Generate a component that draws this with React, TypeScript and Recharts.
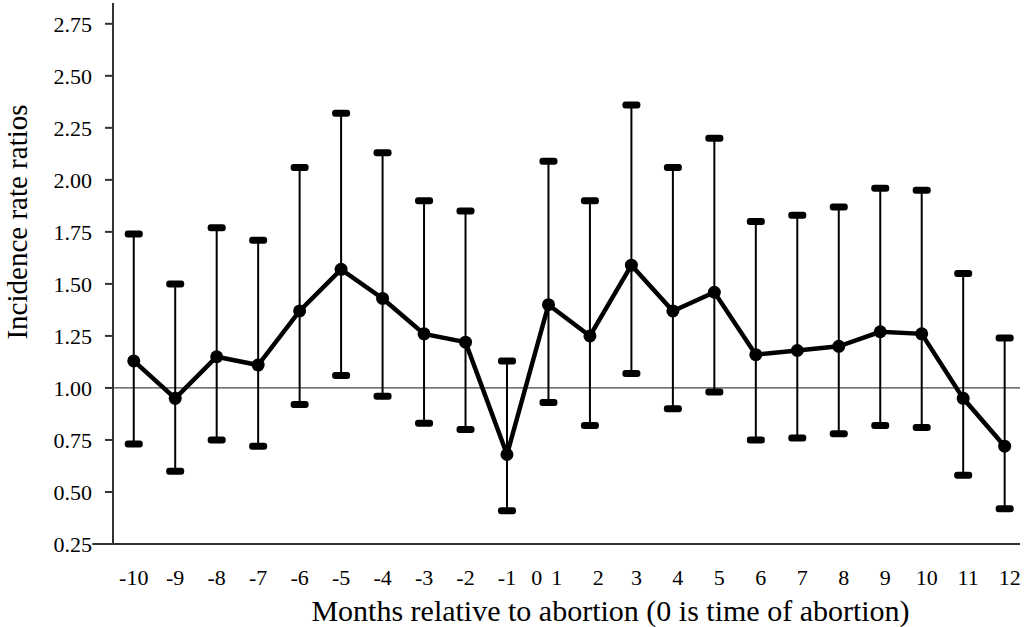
import React from "react";
import {
  ComposedChart,
  Line,
  Scatter,
  ErrorBar,
  XAxis,
  YAxis,
  ReferenceLine,
} from "recharts";

const months = [-10, -9, -8, -7, -6, -5, -4, -3, -2, -1, 1, 2, 3, 4, 5, 6, 7, 8, 9, 10, 11, 12];
const ratios = [1.13, 0.95, 1.15, 1.11, 1.37, 1.57, 1.43, 1.26, 1.22, 0.68, 1.4, 1.25, 1.59, 1.37, 1.46, 1.16, 1.18, 1.2, 1.27, 1.26, 0.95, 0.72];
const lowerCI = [0.73, 0.6, 0.75, 0.72, 0.92, 1.06, 0.96, 0.83, 0.8, 0.41, 0.93, 0.82, 1.07, 0.9, 0.98, 0.75, 0.76, 0.78, 0.82, 0.81, 0.58, 0.42];
const upperCI = [1.74, 1.5, 1.77, 1.71, 2.06, 2.32, 2.13, 1.9, 1.85, 1.13, 2.09, 1.9, 2.36, 2.06, 2.2, 1.8, 1.83, 1.87, 1.96, 1.95, 1.55, 1.24];
const yTicks = [0.25, 0.5, 0.75, 1.0, 1.25, 1.5, 1.75, 2.0, 2.25, 2.5, 2.75];

// label placement (in slot units): "0" has no estimate, it sits between -1 and 1,
// and the labels after it are nudged right a little like in the original figure
const ZERO_POS = 9.72;
const labelNudge = (i: number) => (i === 10 || i === 11 ? 0.2 : i >= 12 ? 0.12 : 0);

const data = months.map((m, i) => ({
  pos: i,
  month: m,
  rr: ratios[i],
  lo: lowerCI[i],
  hi: upperCI[i],
  err: [ratios[i] - lowerCI[i], upperCI[i] - ratios[i]],
}));

const tickItems = [
  ...months.map((m, i) => ({ pos: i + labelNudge(i), label: String(m) })),
  { pos: ZERO_POS, label: "0" },
].sort((a, b) => a.pos - b.pos);

const FONT = "Liberation Serif";

const Cap = (props: any) => {
  const { cx, cy } = props;
  if (cx == null || cy == null) return null;
  return <rect x={cx - 9} y={cy - 3.5} width={18} height={7} rx={3} fill="#000" />;
};

export default function App() {
  return (
    <div style={{ position: "absolute", left: 0, top: 0, background: "#fff" }}>
      <ComposedChart
        width={1026}
        height={627}
        data={data}
        margin={{ top: 3, right: 6, bottom: 0, left: 0 }}
      >
        <XAxis
          type="number"
          dataKey="pos"
          domain={[-0.5, 21.37]}
          ticks={tickItems.map((t) => t.pos)}
          tickFormatter={(v) => tickItems.find((t) => Math.abs(t.pos - v) < 0.001)?.label ?? ""}
          interval={0}
          height={83}
          tickLine={false}
          tickSize={0}
          tickMargin={25}
          axisLine={false}
          tick={{ fill: "#000", fontSize: 22, fontFamily: FONT }}
          label={{
            content: ({ viewBox }: any) => (
              <text
                x={viewBox.x + viewBox.width / 2 + 44}
                y={viewBox.y + 77}
                textAnchor="middle"
                fontSize={30}
                fontFamily={FONT}
                fill="#000"
              >
                Months relative to abortion (0 is time of abortion)
              </text>
            ),
          }}
        />
        <YAxis
          type="number"
          domain={[0.25, 2.85]}
          ticks={yTicks}
          tickFormatter={(v) => v.toFixed(2)}
          width={113}
          tickSize={8}
          tickMargin={13}
          tickLine={{ stroke: "#333", strokeWidth: 2 }}
          axisLine={{ stroke: "#333", strokeWidth: 2 }}
          tick={{ fill: "#000", fontSize: 22, fontFamily: FONT }}
          label={{
            content: () => {
              const x = 17;
              const y = 222;
              return (
                <text
                  x={x}
                  y={y}
                  transform={`rotate(-90 ${x} ${y})`}
                  textAnchor="middle"
                  dominantBaseline="central"
                  fontSize={29}
                  fontFamily={FONT}
                  fill="#000"
                >
                  Incidence rate ratios
                </text>
              );
            },
          }}
        />
        <ReferenceLine
          segment={[{ x: -1, y: 0.25 }, { x: 21.37, y: 0.25 }]}
          ifOverflow="visible"
          stroke="#333"
          strokeWidth={2}
        />
        <ReferenceLine y={1} stroke="#444" strokeWidth={1.2} />
        <Line
          dataKey="rr"
          stroke="#000"
          strokeWidth={4.5}
          dot={{ r: 6.5, fill: "#000", stroke: "#000", strokeWidth: 0 }}
          isAnimationActive={false}
        >
          <ErrorBar dataKey="err" width={0} stroke="#000" strokeWidth={2} />
        </Line>
        <Scatter dataKey="hi" shape={<Cap />} isAnimationActive={false} />
        <Scatter dataKey="lo" shape={<Cap />} isAnimationActive={false} />
      </ComposedChart>
    </div>
  );
}
